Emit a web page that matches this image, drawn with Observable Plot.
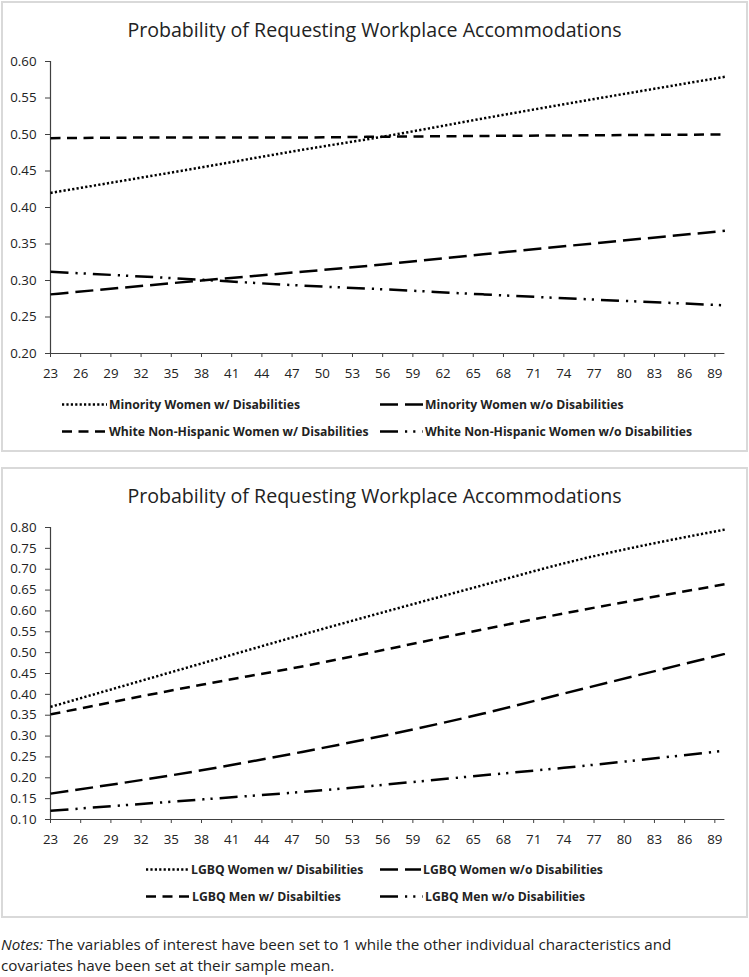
<!DOCTYPE html>
<html>
<head>
<meta charset="utf-8">
<script src="https://cdn.jsdelivr.net/npm/d3@7"></script>
<script src="https://cdn.jsdelivr.net/npm/@observablehq/plot@0.6"></script>
<style>
  html, body { margin: 0; padding: 0; background: #fff; }
  body { font-family: "Open Sans", "Noto Sans", sans-serif; color: #222; }
  #page { position: relative; width: 749px; height: 977px; overflow: hidden; }
  .box { position: absolute; left: 1px; width: 747px; height: 451px; border: 2px solid #d9d9d9; box-sizing: border-box; }
  .title { position: absolute; left: 0; width: 749px; text-align: center; font-size: 19.6px; line-height: 24px; color: #222; transform: translateY(-50%); white-space: nowrap; }
  .chart { position: absolute; left: 0; }
  .leg { position: absolute; display: flex; align-items: center; transform: translateY(-50%); white-space: nowrap; font-size: 12.2px; font-weight: 700; color: #222; }
  .leg svg { display: block; margin-right: 2px; }
  .notes { position: absolute; left: 1px; font-size: 15.2px; line-height: 21px; color: #222; white-space: nowrap; }
</style>
</head>
<body>
<div id="page"></div>
<script>
// ---------- data ----------
const xTicks = [23, 26, 29, 32, 35, 38, 41, 44, 47, 50, 53, 56, 59, 62, 65, 68, 71, 74, 77, 80, 83, 86, 89];
const yTicks1 = [0.20, 0.25, 0.30, 0.35, 0.40, 0.45, 0.50, 0.55, 0.60];
const yTicks2 = [0.10, 0.15, 0.20, 0.25, 0.30, 0.35, 0.40, 0.45, 0.50, 0.55, 0.60, 0.65, 0.70, 0.75, 0.80];

const title = "Probability of Requesting Workplace Accommodations";

// Panel 1 (age -> probability)
const ages1 = [23, 38, 48, 56, 66, 90];
const minorityWith    = [0.420, 0.455, 0.479, 0.497, 0.522, 0.579];
const minorityWithout = [0.281, 0.300, 0.312, 0.322, 0.336, 0.368];
const whiteWith       = [0.495, 0.496, 0.496, 0.497, 0.498, 0.500];
const whiteWithout    = [0.312, 0.301, 0.293, 0.288, 0.281, 0.266];
const names1 = ["Minority Women w/ Disabilities", "Minority Women w/o Disabilities",
                "White Non-Hispanic Women w/ Disabilities", "White Non-Hispanic Women w/o Disabilities"];

// Panel 2
const ages2 = [23, 38, 48, 66, 74, 90];
const lgbqWomenWith    = [0.370, 0.474, 0.543, 0.662, 0.714, 0.795];
const lgbqWomenWithout = [0.162, 0.218, 0.262, 0.354, 0.402, 0.497];
const lgbqMenWith      = [0.352, 0.423, 0.467, 0.556, 0.594, 0.664];
const lgbqMenWithout   = [0.121, 0.148, 0.166, 0.206, 0.224, 0.265];
const names2 = ["LGBQ Women w/ Disabilities", "LGBQ Women w/o Disabilities",
                "LGBQ Men w/ Disabilties", "LGBQ Men w/o Disabilities"];

// ---------- styles ----------
const dashes = {
  dotted: "2.2,2.2",
  longDash: "18,7",
  dash: "10,6.5",
  longDashDotDot: "18,7,2.2,6,2.2,7"
};
const styleOrder = ["dotted", "longDash", "dash", "longDashDotDot"];
const LW = 2.5;
const FONT = '"Open Sans", "Noto Sans", sans-serif';
const AXIS = "#404040";

const page = document.getElementById("page");

function makePanel(top, ages, seriesVals, names, yDomain, yTicks, legendPos) {
  const box = document.createElement("div");
  box.className = "box"; box.style.top = top + "px";
  page.appendChild(box);

  const t = document.createElement("div");
  t.className = "title"; t.textContent = title; t.style.top = (top + 29) + "px";
  page.appendChild(t);

  const marks = [];
  seriesVals.forEach((vals, i) => {
    const rows = ages.map((a, j) => ({age: a, value: vals[j]}));
    marks.push(Plot.line(rows, {x: "age", y: "value", stroke: "#000", strokeWidth: LW,
      strokeDasharray: dashes[styleOrder[i]], strokeLinecap: "butt", curve: "monotone-x"}));
  });

  const chart = Plot.plot({
    width: 749, height: 334,
    marginLeft: 50, marginRight: 24.6, marginTop: 14, marginBottom: 28,
    x: {domain: [23, 90]},
    y: {domain: yDomain},
    style: {fontFamily: FONT, fontSize: "13.3px", color: "#222", background: "transparent", overflow: "visible"},
    marks: [
      Plot.axisY({ticks: yTicks, tickFormat: d => d.toFixed(2), tickSize: 5, tickPadding: 9, label: null, stroke: AXIS, fill: "#222"}),
      Plot.axisX({ticks: xTicks, tickFormat: d => String(d), tickSize: 4, tickPadding: 11, label: null, stroke: AXIS, fill: "#222"}),
      Plot.ruleY([yDomain[0]], {stroke: AXIS, strokeWidth: 1.2}),
      Plot.ruleX([23], {y1: yDomain[0], y2: yDomain[1], stroke: AXIS, strokeWidth: 1.2}),
      ...marks
    ]
  });
  chart.classList.add("chart");
  chart.style.top = (top + 45.7) + "px";
  page.appendChild(chart);

  legendPos.forEach((p, i) => {
    const d = document.createElement("div");
    d.className = "leg";
    d.style.left = p[0] + "px";
    d.style.top = p[1] + "px";
    const svg = d3.create("svg").attr("width", p[2]).attr("height", 10);
    svg.append("line").attr("x1", 0).attr("x2", p[2]).attr("y1", 5).attr("y2", 5)
      .attr("stroke", "#000").attr("stroke-width", LW)
      .attr("stroke-dasharray", dashes[styleOrder[i]]);
    d.appendChild(svg.node());
    const s = document.createElement("span");
    s.textContent = names[i];
    d.appendChild(s);
    page.appendChild(d);
  });
}

makePanel(1, ages1, [minorityWith, minorityWithout, whiteWith, whiteWithout], names1,
  [0.2, 0.6], yTicks1,
  [[62, 404, 45], [380, 404, 43], [62, 431, 45], [380, 431, 43]]);

makePanel(467, ages2, [lgbqWomenWith, lgbqWomenWithout, lgbqMenWith, lgbqMenWithout], names2,
  [0.1, 0.8], yTicks2,
  [[146, 869, 43], [380, 869, 41], [146, 896, 44], [380, 896, 43]]);

const notes = document.createElement("div");
notes.className = "notes";
notes.style.top = "934px";
notes.innerHTML = "<i>Notes:</i> The variables of interest have been set to 1 while the other individual characteristics and<br>covariates have been set at their sample mean.";
page.appendChild(notes);
</script>
</body>
</html>
